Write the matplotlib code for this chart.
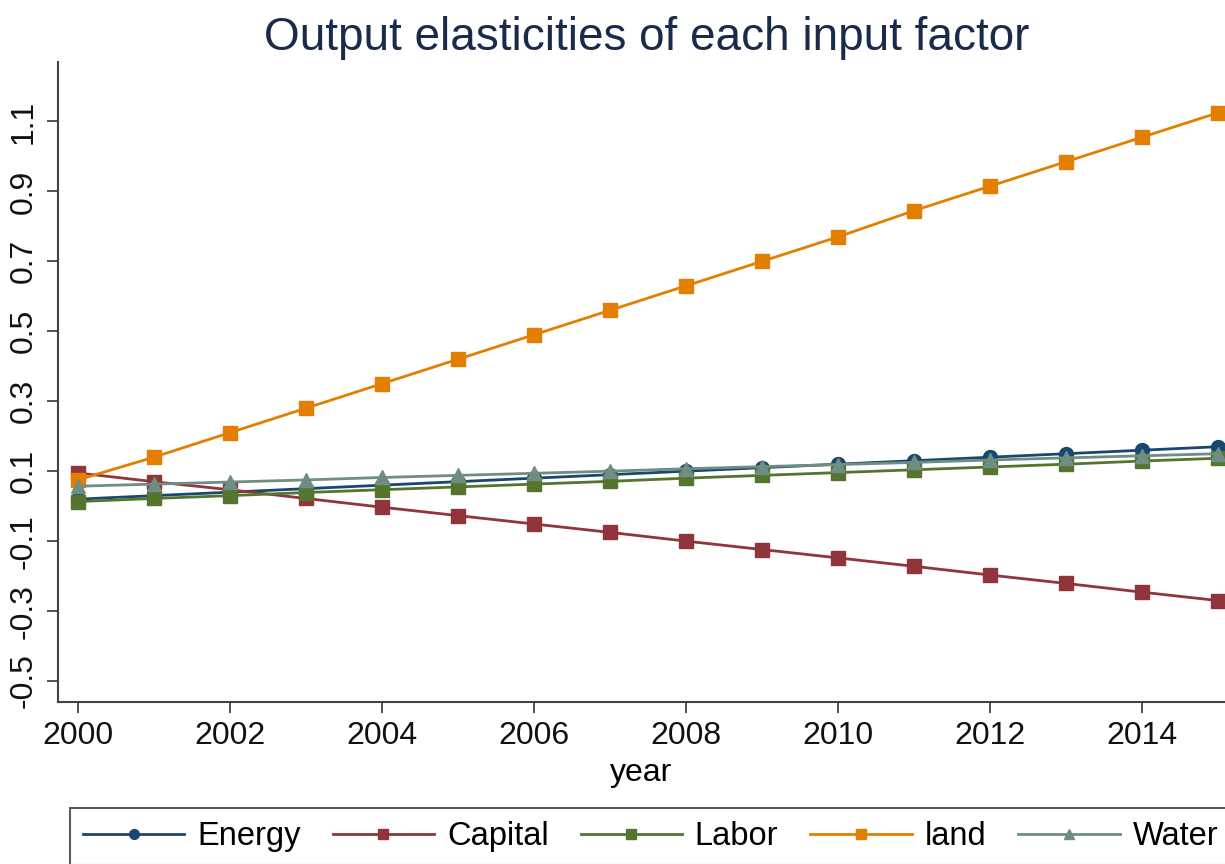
import matplotlib.pyplot as plt

plt.rcParams['font.family'] = ['Liberation Sans', 'DejaVu Sans']

years = list(range(2000, 2016))
energy = [0.020, 0.030, 0.040, 0.050, 0.060, 0.070, 0.080, 0.090,
          0.100, 0.110, 0.120, 0.130, 0.140, 0.150, 0.160, 0.170]
capital = [0.095, 0.070, 0.047, 0.022, -0.003, -0.027, -0.051, -0.075,
           -0.100, -0.124, -0.148, -0.172, -0.197, -0.221, -0.246, -0.270]
labor = [0.013, 0.022, 0.030, 0.039, 0.047, 0.055, 0.063, 0.071,
         0.080, 0.088, 0.096, 0.104, 0.112, 0.120, 0.129, 0.137]
land = [0.075, 0.140, 0.210, 0.280, 0.350, 0.420, 0.490, 0.560,
        0.630, 0.700, 0.770, 0.845, 0.915, 0.985, 1.055, 1.125]
water = [0.057, 0.063, 0.069, 0.075, 0.082, 0.088, 0.094, 0.100,
         0.107, 0.113, 0.119, 0.125, 0.132, 0.138, 0.144, 0.150]

series = [
    ('Energy', energy, '#1a476f', 'o'),
    ('Capital', capital, '#90353b', 's'),
    ('Labor', labor, '#55752f', 's'),
    ('land', land, '#e37e00', 's'),
    ('Water', water, '#6e8e84', '^'),
]

fig = plt.figure(figsize=(12.25, 8.64), dpi=100)
ax = fig.add_axes([58 / 1225, 162 / 864, (1225 - 58) / 1225, 640 / 864])

for name, vals, color, marker in series:
    ax.plot(years, vals, color=color, marker=marker, markersize=10,
            linewidth=2, label=name, clip_on=False)

ax.set_xlim(1999.74, 2015.09)
ax.set_ylim(-0.56, 1.27)
ax.set_xticks(range(2000, 2015, 2))
ax.set_yticks([-0.5, -0.3, -0.1, 0.1, 0.3, 0.5, 0.7, 0.9, 1.1])
ax.set_yticklabels(['-0.5', '-0.3', '-0.1', '0.1', '0.3', '0.5', '0.7', '0.9', '1.1'],
                   rotation=90, va='center')

for side in ['top', 'right']:
    ax.spines[side].set_visible(False)
for side in ['left', 'bottom']:
    ax.spines[side].set_color('#444444')
    ax.spines[side].set_linewidth(1.5)

ax.tick_params(axis='both', labelsize=23, length=8, width=1.3,
               color='#444444', labelcolor='#111111', pad=6)
ax.set_xlabel('year', fontsize=23, labelpad=5)

fig.suptitle('Output elasticities of each input factor', fontsize=33,
             color='#1a2a4a', x=0.528, y=0.982)

leg = fig.legend(loc='upper left', bbox_to_anchor=(70 / 1225, 1 - 808 / 864),
                 ncol=5, fontsize=23.5, handlelength=3.1, handletextpad=0.4,
                 columnspacing=0.98, markerscale=0.7, frameon=True,
                 fancybox=False, borderpad=0.4, borderaxespad=0)
leg.get_frame().set_edgecolor('#333333')
leg.get_frame().set_linewidth(1.5)

fig.savefig('out.png', dpi=100)
